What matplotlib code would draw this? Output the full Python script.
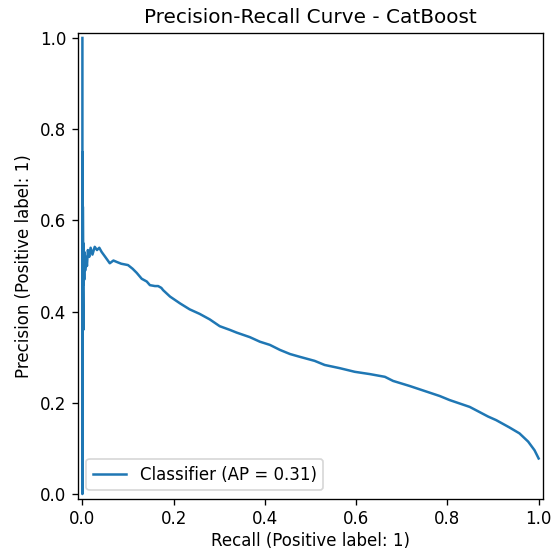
import matplotlib
matplotlib.use("Agg")
import matplotlib.pyplot as plt
import numpy as np

# values (recall ascending)
recall = [
    0.0, 0.0, 0.0005, 0.001, 0.001, 0.0015, 0.002, 0.002, 0.0025, 0.003,
    0.004, 0.005, 0.006, 0.008, 0.010, 0.012, 0.015, 0.018, 0.022, 0.027,
    0.032, 0.037, 0.042, 0.050, 0.060, 0.068, 0.075, 0.085, 0.100, 0.110,
    0.119, 0.130, 0.141, 0.148, 0.159, 0.166, 0.173, 0.177, 0.192, 0.214,
    0.235, 0.257, 0.279, 0.301, 0.323, 0.338, 0.367, 0.389, 0.411, 0.433,
    0.455, 0.476, 0.509, 0.531, 0.564, 0.597, 0.630, 0.663, 0.681, 0.717,
    0.747, 0.783, 0.805, 0.849, 0.870, 0.889, 0.907, 0.936, 0.958, 0.977,
    0.991, 1.0,
]
precision = [
    1.0, 0.0, 0.75, 0.50, 0.63, 0.45, 0.36, 0.55, 0.46, 0.52,
    0.47, 0.53, 0.49, 0.52, 0.50, 0.535, 0.52, 0.54, 0.525, 0.542,
    0.535, 0.540, 0.531, 0.520, 0.506, 0.512, 0.509, 0.505, 0.502, 0.494,
    0.485, 0.472, 0.466, 0.458, 0.456, 0.456, 0.452, 0.447, 0.433, 0.418,
    0.405, 0.395, 0.383, 0.368, 0.360, 0.354, 0.344, 0.334, 0.327, 0.316,
    0.307, 0.301, 0.292, 0.283, 0.276, 0.268, 0.263, 0.257, 0.248, 0.237,
    0.227, 0.215, 0.206, 0.191, 0.180, 0.170, 0.162, 0.146, 0.133, 0.115,
    0.096, 0.078,
]
ap = 0.31
model_name = "CatBoost"


def main():
    dpi = 120
    fig = plt.figure(figsize=(560 / dpi, 551 / dpi), dpi=dpi)
    ax = fig.add_axes([0.139, 0.0951, 0.831, 0.8443])

    ax.plot(recall, precision, color="#1f77b4", linewidth=1.5,
            label=f"Classifier (AP = {ap:.2f})")
    ax.set_xlim(-0.01, 1.01)
    ax.set_ylim(-0.01, 1.01)
    ax.set_xticks(np.arange(0, 1.01, 0.2))
    ax.set_yticks(np.arange(0, 1.01, 0.2))
    ax.set_xlabel("Recall (Positive label: 1)", labelpad=2.5)
    ax.set_ylabel("Precision (Positive label: 1)")
    ax.set_title(f"Precision-Recall Curve - {model_name}")
    ax.legend(loc="lower left")

    fig.savefig("out.png", dpi=dpi)
    plt.close(fig)


if __name__ == "__main__":
    main()
